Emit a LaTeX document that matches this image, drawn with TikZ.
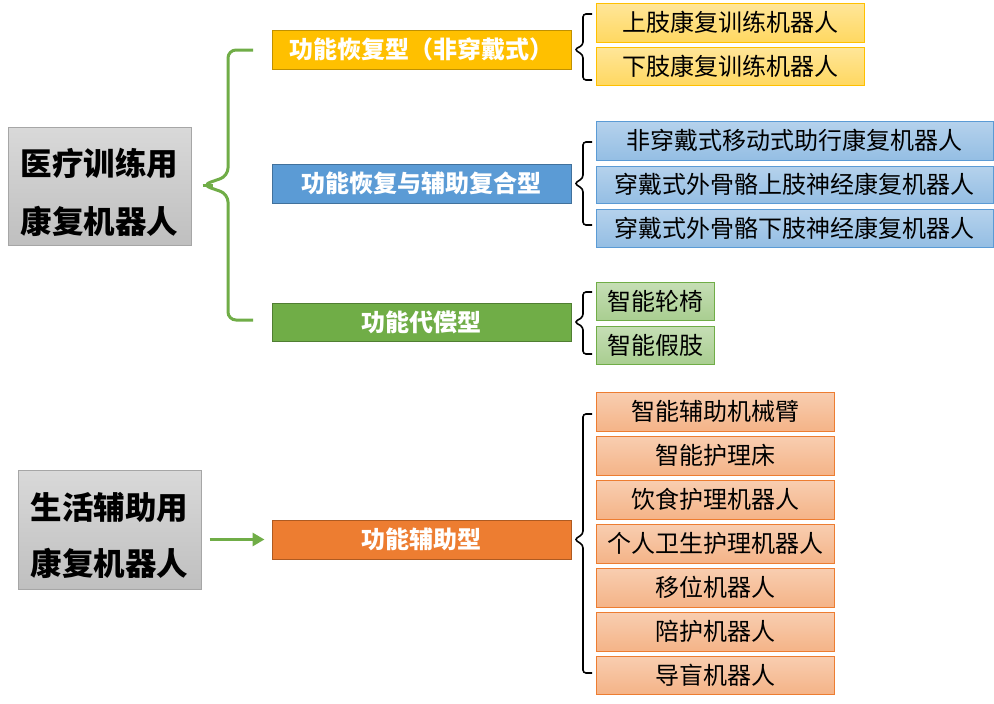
\documentclass[tikz,border=0pt]{standalone}
\usepackage{fontspec}
\newfontfamily\cjk{Noto Sans CJK SC}
\usetikzlibrary{arrows.meta}
\definecolor{cy}{HTML}{FFC000}
\definecolor{cyb}{HTML}{C09000}
\definecolor{cb}{HTML}{5B9BD5}
\definecolor{cbb}{HTML}{41719C}
\definecolor{cg}{HTML}{70AD47}
\definecolor{cgb}{HTML}{507E32}
\definecolor{co}{HTML}{ED7D31}
\definecolor{cob}{HTML}{AE5A21}
\begin{document}
\begin{tikzpicture}[x=1pt,y=-1pt,
  box/.style={rectangle, inner sep=0pt, line width=1pt, font=\cjk\fontsize{24}{28}\selectfont},
  mainbox/.style={rectangle, inner sep=0pt, line width=1pt, draw=black!35, top color=black!15, bottom color=black!25,
    minimum width=183pt, minimum height=118pt, align=center, font=\cjk\bfseries\fontsize{31.5}{58}\selectfont},
  cat/.style={box, minimum width=299pt, minimum height=39pt, text=white, font=\cjk\bfseries\fontsize{24}{28}\selectfont},
  cyel/.style={cat, fill=cy, draw=cyb},
  cblu/.style={cat, fill=cb, draw=cbb},
  cgrn/.style={cat, fill=cg, draw=cgb},
  corg/.style={cat, fill=co, draw=cob},
  lyel/.style={box, minimum width=268pt, minimum height=39pt, draw=cy, top color=cy!40, bottom color=cy!62},
  lblu/.style={box, minimum width=397pt, minimum height=39pt, draw=cb, top color=cb!45, bottom color=cb!65},
  lgrn/.style={box, minimum width=118pt, minimum height=38pt, draw=cg, top color=cg!40, bottom color=cg!60},
  lorg/.style={box, minimum width=238pt, minimum height=39pt, draw=co, top color=co!38, bottom color=co!58},
  brk/.style={draw=black, line width=1.6pt, rounded corners=3pt},
  gbrk/.style={draw=cg, line width=3pt, rounded corners=8pt},
  garr/.style={draw=cg, line width=3pt, -{Triangle[length=12pt,width=13pt]}}
]
\useasboundingbox (0,0) rectangle (994,704);
\fill[white] (0,0) rectangle (994,704);

% main boxes
\node[mainbox] (L1) at (99.5,186) {\rule{0pt}{40pt}医疗训练用\\康复机器人};
\node[mainbox, minimum height=119pt, font=\cjk\bfseries\fontsize{31.5}{56}\selectfont] (L2) at (109.5,529.5) {\rule{0pt}{39pt}生活辅助用\\康复机器人};

% categories
\node[cyel] (C1) at (421.5,49.5) {功能恢复型（非穿戴式）};
\node[cblu] (C2) at (421.5,183.5) {功能恢复与辅助复合型};
\node[cgrn, minimum height=38pt] (C3) at (421.5,322) {功能代偿型};
\node[corg] (C4) at (421.5,539.5) {功能辅助型};

% leaves
\node[lyel] (Y1) at (730,22.5) {上肢康复训练机器人};
\node[lyel, minimum height=38pt] (Y2) at (730,66) {下肢康复训练机器人};

\node[lblu] (B1) at (794.5,140.5) {非穿戴式移动式助行康复机器人};
\node[lblu, minimum height=37pt] (B2) at (794.5,184.5) {穿戴式外骨骼上肢神经康复机器人};
\node[lblu, minimum height=38pt] (B3) at (794.5,228) {穿戴式外骨骼下肢神经康复机器人};

\node[lgrn] (G1) at (655,301) {智能轮椅};
\node[lgrn] (G2) at (655,345) {智能假肢};

\node[lorg] (O1) at (715,411.5) {智能辅助机械臂};
\node[lorg] (O2) at (715,455.5) {智能护理床};
\node[lorg] (O3) at (715,499.5) {饮食护理机器人};
\node[lorg] (O4) at (715,543.5) {个人卫生护理机器人};
\node[lorg] (O5) at (715,587.5) {移位机器人};
\node[lorg] (O6) at (715,631.5) {陪护机器人};
\node[lorg, minimum height=38pt] (O7) at (715,675) {导盲机器人};

% green brace from L1 to categories
\coordinate (gt) at (253,50);
\coordinate (gb) at (253,320);
\path[gbrk] (gt) -- (228,50) -- (228,176) -- ([xshift=11pt]L1.east |- 0,185) -- (228,194) -- (228,320) -- (gb);
\draw[cg, line width=3pt] ([xshift=11pt]L1.east |- 0,185) -- ++(10,0);

% black braces
\path[brk] (592,14) -- (583,14) -- (583,45) -- ([xshift=3pt]C1.east) -- (583,55) -- (583,80) -- (592,80);
\path[brk] (592,142) -- (583,142) -- (583,178) -- ([xshift=3pt]C2.east) -- (583,189) -- (583,225) -- (592,225);
\path[brk] (592,292) -- (583,292) -- (583,317) -- ([xshift=3pt]C3.east) -- (583,327) -- (583,354) -- (592,354);
\path[brk] (592,414) -- (583,414) -- (583,534) -- ([xshift=3pt]C4.east) -- (583,545) -- (583,673) -- (592,673);

% arrow
\draw[garr, shorten <=8pt, shorten >=7pt] (L2.east |- C4.west) -- (C4.west);
\end{tikzpicture}
\end{document}
